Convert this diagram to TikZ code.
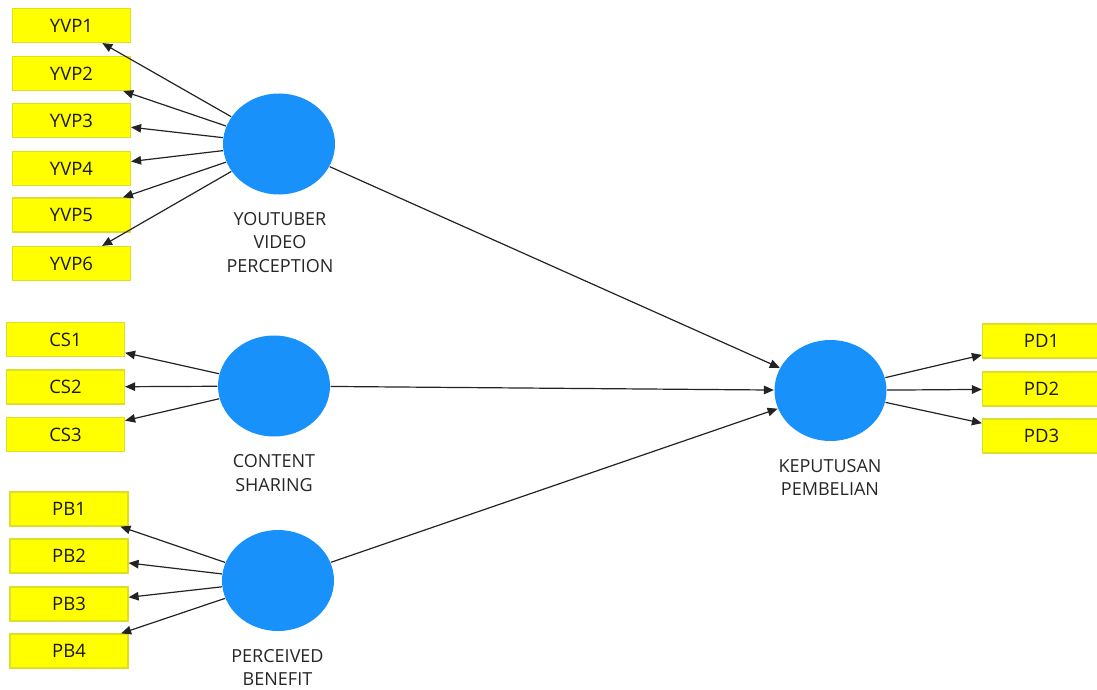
\documentclass[tikz,border=0pt]{standalone}
\usepackage{fontspec}
\setmainfont{Open Sans}
\usetikzlibrary{arrows.meta,shapes.geometric}
\definecolor{itemyellow}{RGB}{255,255,0}
\definecolor{itemedge}{RGB}{222,222,40}
\definecolor{latentblue}{RGB}{24,145,250}
\definecolor{pathgray}{RGB}{35,35,35}
\begin{document}
\begin{tikzpicture}[x=1pt,y=-1pt,->,>={Triangle[length=10pt,width=8.5pt]},
  line width=1.2pt,draw=pathgray,
  latent node/.style={ellipse,fill=latentblue,draw=none,minimum width=112pt,
    minimum height=101pt,inner sep=0pt},
  item node/.style={rectangle,fill=itemyellow,draw=itemedge,line width=1.2pt,
    minimum width=118pt,minimum height=34pt,inner sep=0pt,text=black!90,
    font=\fontsize{18.5}{20}\selectfont},
  name label/.style={align=center,text=black!85,
    font=\fontsize{18}{23.5}\selectfont}]

  \useasboundingbox (0,0) rectangle (1097,690);

  % latent variables
  \node[latent node] (yvp) at (279,144) {};
  \node[latent node] (cs) at (274,386) {};
  \node[latent node] (pb) at (278,580.5) {};
  \node[latent node] (kp) at (830.5,390.5) {};

  \node[name label] (yvplabel) at (280,242.5) {YOUTUBER\\VIDEO\\PERCEPTION};
  \node[name label] (cslabel) at (274,473) {CONTENT\\SHARING};
  \node[name label] (pblabel) at (277.5,667.5) {PERCEIVED\\BENEFIT};
  \node[name label] (kplabel) at (830,477.5) {KEPUTUSAN\\PEMBELIAN};

  % indicators
  \foreach \i/\y in {1/25.5,2/73.5,3/120.5,4/168.5,5/215,6/263.5}
    \node[item node] (yvp\i) at (71.5,\y) {YVP\i};
  \foreach \i/\y in {1/339.5,2/387,3/434.5}
    \node[item node] (cs\i) at (65.5,\y) {CS\i};
  \foreach \i/\y in {1/509,2/556,3/604,4/651}
    \node[item node] (pb\i) at (69,\y) {PB\i};
  \foreach \i/\y in {1/341,2/389,3/436}
    \node[item node] (pd\i) at (1041.5,\y) {PD\i};

  % outer loadings
  \foreach \i in {1,...,6}
    \draw (yvp) -- (yvp\i);
  \foreach \i in {1,2,3}
    \draw (cs) -- (cs\i);
  \foreach \i in {1,...,4}
    \draw (pb) -- (pb\i);
  \foreach \i in {1,2,3}
    \draw (kp) -- (pd\i);

  % inner model
  \path (yvp) edge (kp)
        (cs) edge (kp)
        (pb) edge (kp);
\end{tikzpicture}
\end{document}
